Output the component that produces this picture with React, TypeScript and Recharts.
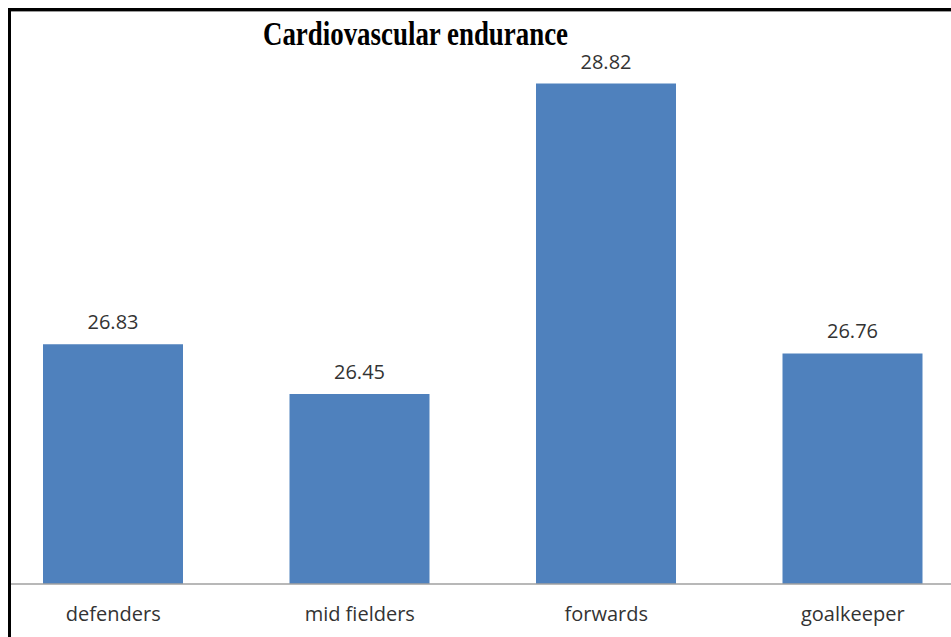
import React from "react";
import { BarChart, Bar, XAxis, YAxis, LabelList } from "recharts";

// Mean cardiovascular endurance score by playing position
const positions = ["defenders", "mid fielders", "forwards", "goalkeeper"];
const enduranceScores = [26.83, 26.45, 28.82, 26.76];
const valueRange: [number, number] = [25, 29];

const chartTitle = "Cardiovascular endurance";

const data = positions.map((position, i) => ({
  position,
  score: enduranceScores[i],
}));

const BAR_BLUE = "#4F81BD";
const TEXT_GREY = "#333333";

export default function App() {
  return (
    <div
      style={{
        position: "fixed",
        left: 8,
        top: 8,
        width: 943,
        height: 629,
        boxSizing: "border-box",
        borderLeft: "3px solid #000",
        borderTop: "3px solid #000",
        overflow: "hidden",
        background: "#fff",
      }}
    >
      <div
        style={{
          position: "absolute",
          left: 0,
          top: 0,
          width: "100%",
          height: 1,
          background: "#9a9a9a",
        }}
      />
      <div style={{ position: "absolute", left: -21, top: 0 }}>
        <BarChart
          width={986}
          height={626}
          data={data}
          margin={{ top: 49, right: 0, bottom: 0, left: 0 }}
        >
          <YAxis hide domain={valueRange} />
          <XAxis
            dataKey="position"
            height={53}
            tickLine={false}
            tickSize={0}
            tickMargin={23}
            axisLine={{ stroke: "#a0a0a0", strokeWidth: 1.5 }}
            tick={{
              fill: TEXT_GREY,
              fontSize: 20,
              fontFamily: "'Open Sans', sans-serif",
            }}
          />
          <Bar
            dataKey="score"
            fill={BAR_BLUE}
            barSize={140}
            isAnimationActive={false}
          >
            <LabelList
              dataKey="score"
              position="top"
              offset={15}
              formatter={(v: number) => v.toFixed(2)}
              style={{
                fill: TEXT_GREY,
                fontSize: 20,
                fontFamily: "'Open Sans', sans-serif",
              }}
            />
          </Bar>
        </BarChart>
      </div>
      <svg
        width={932}
        height={60}
        style={{ position: "absolute", left: 0, top: 0 }}
      >
        <text
          x={404.5}
          y={34}
          textAnchor="middle"
          textLength={305}
          lengthAdjust="spacingAndGlyphs"
          fontFamily="'Liberation Serif', 'Times New Roman', serif"
          fontWeight="bold"
          fontSize={34}
          fill="#000"
        >
          {chartTitle}
        </text>
      </svg>
    </div>
  );
}
